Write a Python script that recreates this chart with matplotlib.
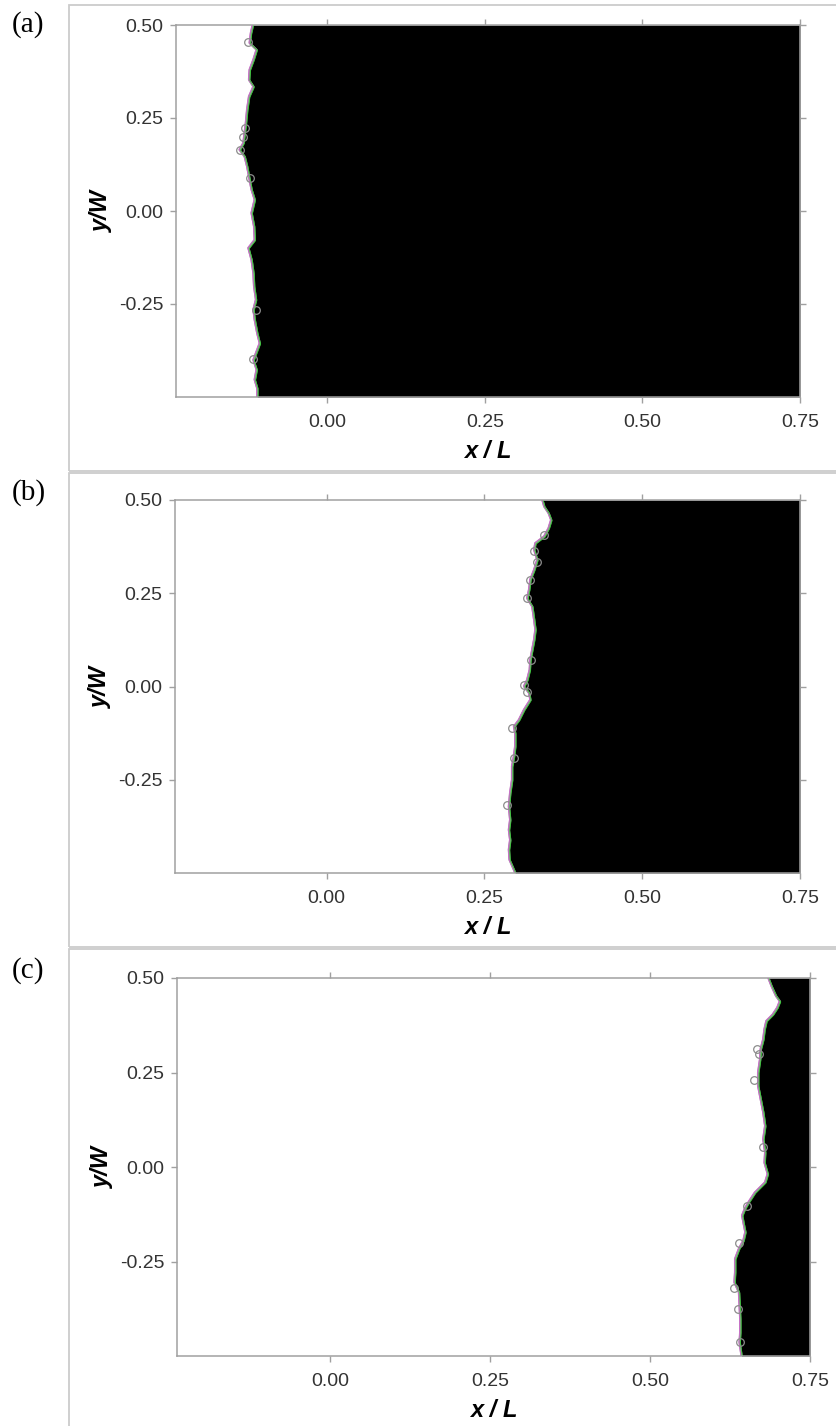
import matplotlib
matplotlib.use("Agg")
import matplotlib.pyplot as plt
import matplotlib.transforms as mtransforms
from matplotlib.patches import Rectangle

# front position x/L sampled along y/W for each snapshot
front_y_a = [0.500, 0.478, 0.451, 0.433, 0.406, 0.379, 0.352, 0.334, 0.307, 0.272,
             0.236, 0.209, 0.182, 0.164, 0.146, 0.119, 0.083, 0.057, 0.030, -0.006,
             -0.042, -0.078, -0.100, -0.132, -0.168, -0.203, -0.239, -0.266, -0.293,
             -0.329, -0.356, -0.383, -0.401, -0.427, -0.454, -0.477, -0.500]
front_x_a = [-0.118, -0.121, -0.123, -0.112, -0.117, -0.123, -0.124, -0.117, -0.124,
             -0.127, -0.129, -0.131, -0.133, -0.139, -0.131, -0.127, -0.123, -0.120,
             -0.115, -0.120, -0.116, -0.115, -0.125, -0.120, -0.117, -0.116, -0.113,
             -0.117, -0.115, -0.111, -0.107, -0.113, -0.117, -0.112, -0.115, -0.111,
             -0.111]
bubble_x_a = [-0.125, -0.131, -0.133, -0.139, -0.123, -0.113, -0.118]
bubble_y_a = [0.455, 0.222, 0.200, 0.164, 0.088, -0.266, -0.399]

front_y_b = [0.500, 0.482, 0.464, 0.446, 0.424, 0.402, 0.384, 0.366, 0.339, 0.312,
             0.286, 0.259, 0.236, 0.214, 0.178, 0.152, 0.125, 0.098, 0.071, 0.044,
             0.017, 0.000, -0.018, -0.036, -0.063, -0.090, -0.108, -0.126, -0.161,
             -0.188, -0.215, -0.251, -0.286, -0.322, -0.358, -0.385, -0.412, -0.438,
             -0.465, -0.492, -0.500]
front_x_b = [0.342, 0.345, 0.352, 0.356, 0.352, 0.345, 0.331, 0.329, 0.334, 0.329,
             0.323, 0.321, 0.318, 0.326, 0.329, 0.331, 0.329, 0.326, 0.323, 0.322,
             0.318, 0.313, 0.321, 0.323, 0.313, 0.305, 0.297, 0.299, 0.299, 0.297,
             0.294, 0.294, 0.291, 0.289, 0.291, 0.289, 0.291, 0.289, 0.290, 0.297,
             0.299]
bubble_x_b = [0.345, 0.329, 0.334, 0.323, 0.318, 0.324, 0.313, 0.318, 0.294, 0.297, 0.286]
bubble_y_b = [0.406, 0.362, 0.335, 0.286, 0.236, 0.071, 0.004, -0.014, -0.112, -0.193, -0.318]

front_y_c = [0.500, 0.478, 0.452, 0.438, 0.421, 0.403, 0.386, 0.364, 0.337, 0.311,
             0.284, 0.249, 0.214, 0.179, 0.144, 0.108, 0.073, 0.038, 0.011, -0.019,
             -0.041, -0.068, -0.094, -0.112, -0.129, -0.147, -0.173, -0.195, -0.217,
             -0.244, -0.279, -0.306, -0.332, -0.367, -0.402, -0.438, -0.464, -0.500]
front_x_c = [0.685, 0.690, 0.697, 0.703, 0.699, 0.692, 0.682, 0.679, 0.677, 0.673,
             0.672, 0.669, 0.669, 0.673, 0.677, 0.680, 0.677, 0.680, 0.679, 0.684,
             0.680, 0.664, 0.654, 0.648, 0.644, 0.646, 0.649, 0.646, 0.639, 0.633,
             0.633, 0.632, 0.639, 0.640, 0.641, 0.641, 0.640, 0.643]
bubble_x_c = [0.667, 0.670, 0.663, 0.677, 0.651, 0.639, 0.631, 0.637, 0.640]
bubble_y_c = [0.313, 0.298, 0.230, 0.054, -0.103, -0.202, -0.319, -0.376, -0.462]

panels = [
    ("(a)", front_x_a, front_y_a, bubble_x_a, bubble_y_a),
    ("(b)", front_x_b, front_y_b, bubble_x_b, bubble_y_b),
    ("(c)", front_x_c, front_y_c, bubble_x_c, bubble_y_c),
]

x_ticks = [0.0, 0.25, 0.50, 0.75]
y_ticks = [-0.25, 0.0, 0.25, 0.50]
x_lim = (-0.24, 0.75)
y_lim = (-0.5, 0.5)

W, H = 836, 1426
fig = plt.figure(figsize=(W / 100, H / 100), dpi=100)

# axes boxes and frame boxes in pixels: (left, top, right, bottom)
ax_px = [(176, 25, 800, 397), (175, 500, 800, 873), (177, 978, 810, 1356)]
frame_px = [(69, 5, 845, 471), (69, 473, 845, 947), (69, 949, 845, 1440)]
label_y_px = [25, 493, 971]

spine_col = "#a0a0a0"
text_col = "#333333"

for i, (tag, fx, fy, bx, by) in enumerate(panels):
    l, t, r, b = frame_px[i]
    fig.add_artist(Rectangle((l / W, 1 - b / H), (r - l) / W, (b - t) / H,
                             transform=fig.transFigure, fill=False,
                             edgecolor="#cccccc", lw=1.3, clip_on=False))
    fig.text(12 / W, 1 - label_y_px[i] / H, tag, family="Liberation Serif",
             fontsize=21, va="center", ha="left", color="black")

    l, t, r, b = ax_px[i]
    ax = fig.add_axes([l / W, 1 - b / H, (r - l) / W, (b - t) / H])
    ax.set_xlim(*x_lim)
    ax.set_ylim(*y_lim)

    # liquid region behind the front
    ax.fill_betweenx(fy, fx, x_lim[1], color="black", lw=0, zorder=1)
    off_m = mtransforms.offset_copy(ax.transData, fig=fig, x=-0.6, y=0.4, units="points")
    off_g = mtransforms.offset_copy(ax.transData, fig=fig, x=0.6, y=-0.4, units="points")
    ax.plot(fx, fy, color="#999999", lw=1.6, zorder=2)
    ax.plot(fx, fy, color="#cc66cc", lw=0.6, zorder=2.1, transform=off_m)
    ax.plot(fx, fy, color="#33cc33", lw=0.6, zorder=2.2, transform=off_g)
    ax.plot(bx, by, ls="none", marker="o", ms=5.5, mfc="none", mec="#8c8c8c",
            mew=0.9, zorder=3)

    ax.set_xticks(x_ticks)
    ax.set_yticks(y_ticks)
    ax.set_xticklabels([f"{v:.2f}" for v in x_ticks])
    ax.set_yticklabels([f"{v:.2f}" for v in y_ticks])
    ax.tick_params(direction="out", length=4, width=1, color=spine_col,
                   labelsize=14, labelcolor=text_col, top=True, right=True)
    ax.tick_params(axis="x", pad=8)
    ax.tick_params(axis="y", pad=5)
    for lbl in ax.get_xticklabels() + ax.get_yticklabels():
        lbl.set_family("Liberation Sans")
    for sp in ax.spines.values():
        sp.set_color(spine_col)
        sp.set_linewidth(1.1)
        sp.set_zorder(4)

    ax.set_xlabel("x / L", family="Liberation Sans", style="italic",
                  weight="bold", fontsize=17, labelpad=7)
    ax.set_ylabel("y/W", family="Liberation Sans", style="italic",
                  weight="bold", fontsize=17, labelpad=4)

fig.savefig("out.png", dpi=100)
